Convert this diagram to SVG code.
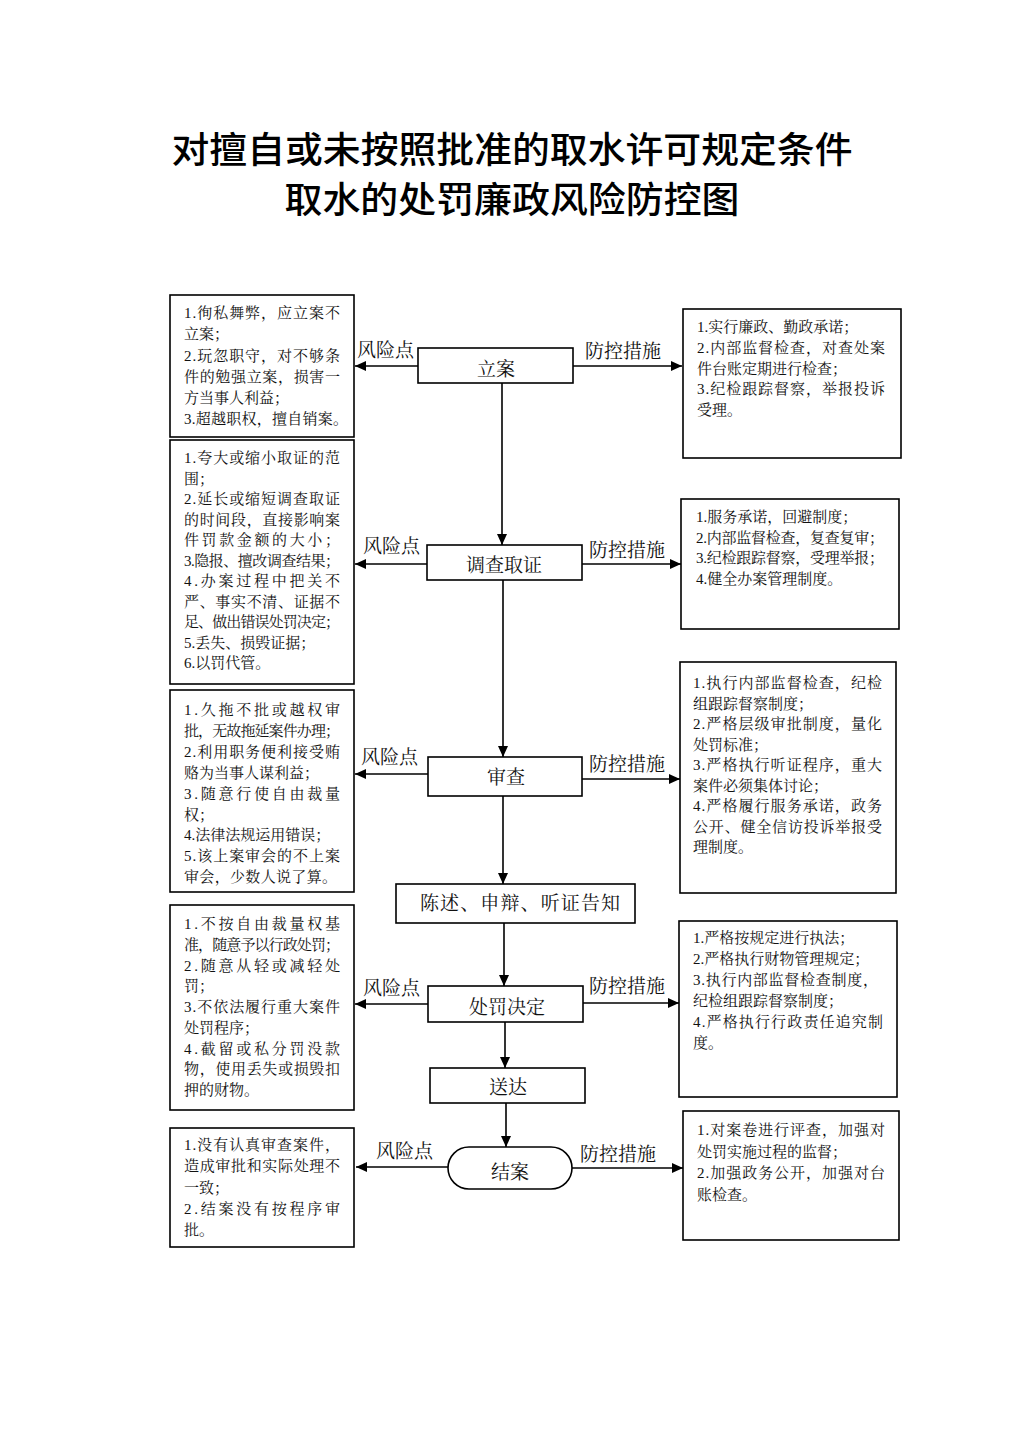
<svg xmlns="http://www.w3.org/2000/svg" width="1024" height="1449" viewBox="0 0 1024 1449">
<style>
.bg{fill:#fff}
.box{fill:#fff;stroke:#000;stroke-width:1.6}
.node{fill:#fff;stroke:#000;stroke-width:1.6}
.t{font-family:"Liberation Serif","Noto Serif CJK SC","Noto Sans CJK SC",serif;font-size:15px;fill:#111}
.n{font-family:"Liberation Serif","Noto Serif CJK SC","Noto Sans CJK SC",serif;font-size:19px;fill:#111;text-anchor:middle}
.lb{font-family:"Liberation Serif","Noto Serif CJK SC","Noto Sans CJK SC",serif;font-size:19px;fill:#111}
.title{font-family:"Noto Sans CJK SC",sans-serif;font-size:36px;font-weight:500;fill:#000;text-anchor:middle}
.c{stroke:#000;stroke-width:1.6;fill:none}
</style>
<defs>
<marker id="ah" markerUnits="userSpaceOnUse" markerWidth="12" markerHeight="10" refX="11" refY="5" orient="auto">
<path d="M0,0 L11,5 L0,10 z" fill="#000"/>
</marker>
</defs>
<rect class="bg" x="0" y="0" width="1024" height="1449"/>
<g id="title">
<text class="title" x="512" y="163" textLength="681" lengthAdjust="spacingAndGlyphs">对擅自或未按照批准的取水许可规定条件</text>
<text class="title" x="512" y="213" textLength="455" lengthAdjust="spacingAndGlyphs">取水的处罚廉政风险防控图</text>
</g>

<g id="connectors">
<line class="c" x1="502" y1="383" x2="502" y2="545" marker-end="url(#ah)"/>
<line class="c" x1="503" y1="580" x2="503" y2="757" marker-end="url(#ah)"/>
<line class="c" x1="503" y1="796" x2="503" y2="884" marker-end="url(#ah)"/>
<line class="c" x1="504" y1="923" x2="504" y2="986" marker-end="url(#ah)"/>
<line class="c" x1="505" y1="1022" x2="505" y2="1068" marker-end="url(#ah)"/>
<line class="c" x1="506" y1="1103" x2="506" y2="1147" marker-end="url(#ah)"/>
<line class="c" x1="418" y1="366" x2="355" y2="366" marker-end="url(#ah)"/>
<line class="c" x1="573" y1="366" x2="682" y2="366" marker-end="url(#ah)"/>
<line class="c" x1="427" y1="564" x2="355" y2="564" marker-end="url(#ah)"/>
<line class="c" x1="582" y1="564" x2="681" y2="564" marker-end="url(#ah)"/>
<line class="c" x1="428" y1="774" x2="355" y2="774" marker-end="url(#ah)"/>
<line class="c" x1="582" y1="779" x2="680" y2="779" marker-end="url(#ah)"/>
<line class="c" x1="428" y1="1004" x2="355" y2="1004" marker-end="url(#ah)"/>
<line class="c" x1="583" y1="1003" x2="679" y2="1003" marker-end="url(#ah)"/>
<line class="c" x1="448" y1="1167" x2="356" y2="1167" marker-end="url(#ah)"/>
<line class="c" x1="572" y1="1168" x2="683" y2="1168" marker-end="url(#ah)"/>
<text class="lb" x="357" y="357">风险点</text>
<text class="lb" x="585" y="358">防控措施</text>
<text class="lb" x="363" y="553">风险点</text>
<text class="lb" x="589" y="557">防控措施</text>
<text class="lb" x="361" y="764">风险点</text>
<text class="lb" x="589" y="771">防控措施</text>
<text class="lb" x="363" y="995">风险点</text>
<text class="lb" x="589" y="993">防控措施</text>
<text class="lb" x="376" y="1158">风险点</text>
<text class="lb" x="580" y="1161">防控措施</text>
</g>

<g id="node-lian">
<rect class="node" x="418" y="348" width="155" height="35"/>
<text class="n" x="496" y="376">立案</text>
</g>
<g id="node-diaocha">
<rect class="node" x="427" y="545" width="155" height="35"/>
<text class="n" x="504" y="572">调查取证</text>
</g>
<g id="node-shencha">
<rect class="node" x="428" y="757" width="154" height="39"/>
<text class="n" x="506" y="784">审查</text>
</g>
<g id="node-chenshu">
<rect class="node" x="396" y="884" width="239" height="39"/>
<text class="n" x="520" y="910" textLength="200" lengthAdjust="spacing">陈述、申辩、听证告知</text>
</g>
<g id="node-chufa">
<rect class="node" x="428" y="986" width="155" height="36"/>
<text class="n" x="507" y="1014">处罚决定</text>
</g>
<g id="node-songda">
<rect class="node" x="430" y="1068" width="155" height="35"/>
<text class="n" x="508" y="1094">送达</text>
</g>
<g id="node-jiean">
<rect class="node" x="448" y="1147" width="124" height="42" rx="21" ry="21"/>
<text class="n" x="510" y="1179">结案</text>
</g>

<g id="risk-1">
<rect class="box" x="170" y="295" width="184" height="142"/>
<text class="t" x="184" y="318" textLength="156" lengthAdjust="spacing">1.徇私舞弊，应立案不</text>
<text class="t" x="184" y="339">立案；</text>
<text class="t" x="184" y="361" textLength="156" lengthAdjust="spacing">2.玩忽职守，对不够条</text>
<text class="t" x="184" y="382" textLength="156" lengthAdjust="spacing">件的勉强立案，损害一</text>
<text class="t" x="184" y="403">方当事人利益；</text>
<text class="t" x="184" y="424" textLength="164" lengthAdjust="spacing">3.超越职权，擅自销案。</text>
</g>
<g id="risk-2">
<rect class="box" x="170" y="440" width="184" height="244"/>
<text class="t" x="184" y="463" textLength="156" lengthAdjust="spacing">1.夸大或缩小取证的范</text>
<text class="t" x="184" y="483.5">围；</text>
<text class="t" x="184" y="504" textLength="156" lengthAdjust="spacing">2.延长或缩短调查取证</text>
<text class="t" x="184" y="524.5" textLength="156" lengthAdjust="spacing">的时间段，直接影响案</text>
<text class="t" x="184" y="545" textLength="156" lengthAdjust="spacing">件罚款金额的大小；</text>
<text class="t" x="184" y="565.5" textLength="156" lengthAdjust="spacing">3.隐报、擅改调查结果；</text>
<text class="t" x="184" y="586" textLength="156" lengthAdjust="spacing">4.办案过程中把关不</text>
<text class="t" x="184" y="606.5" textLength="156" lengthAdjust="spacing">严、事实不清、证据不</text>
<text class="t" x="184" y="627" textLength="156" lengthAdjust="spacing">足、做出错误处罚决定；</text>
<text class="t" x="184" y="647.5">5.丢失、损毁证据；</text>
<text class="t" x="184" y="668">6.以罚代管。</text>
</g>
<g id="risk-3">
<rect class="box" x="170" y="690" width="184" height="202"/>
<text class="t" x="184" y="715" textLength="156" lengthAdjust="spacing">1.久拖不批或越权审</text>
<text class="t" x="184" y="736" textLength="156" lengthAdjust="spacing">批，无故拖延案件办理；</text>
<text class="t" x="184" y="757" textLength="156" lengthAdjust="spacing">2.利用职务便利接受贿</text>
<text class="t" x="184" y="778">赂为当事人谋利益；</text>
<text class="t" x="184" y="799" textLength="156" lengthAdjust="spacing">3.随意行使自由裁量</text>
<text class="t" x="184" y="820">权；</text>
<text class="t" x="184" y="840">4.法律法规运用错误；</text>
<text class="t" x="184" y="861" textLength="156" lengthAdjust="spacing">5.该上案审会的不上案</text>
<text class="t" x="184" y="882" textLength="153" lengthAdjust="spacing">审会，少数人说了算。</text>
</g>
<g id="risk-4">
<rect class="box" x="170" y="905" width="184" height="205"/>
<text class="t" x="184" y="929" textLength="156" lengthAdjust="spacing">1.不按自由裁量权基</text>
<text class="t" x="184" y="950" textLength="156" lengthAdjust="spacing">准，随意予以行政处罚；</text>
<text class="t" x="184" y="970.5" textLength="156" lengthAdjust="spacing">2.随意从轻或减轻处</text>
<text class="t" x="184" y="991">罚；</text>
<text class="t" x="184" y="1012" textLength="156" lengthAdjust="spacing">3.不依法履行重大案件</text>
<text class="t" x="184" y="1033">处罚程序；</text>
<text class="t" x="184" y="1053.5" textLength="156" lengthAdjust="spacing">4.截留或私分罚没款</text>
<text class="t" x="184" y="1074" textLength="156" lengthAdjust="spacing">物，使用丢失或损毁扣</text>
<text class="t" x="184" y="1095">押的财物。</text>
</g>
<g id="risk-5">
<rect class="box" x="170" y="1128" width="184" height="119"/>
<text class="t" x="184" y="1150" textLength="156" lengthAdjust="spacing">1.没有认真审查案件，</text>
<text class="t" x="184" y="1171" textLength="156" lengthAdjust="spacing">造成审批和实际处理不</text>
<text class="t" x="184" y="1192.5">一致；</text>
<text class="t" x="184" y="1214" textLength="156" lengthAdjust="spacing">2.结案没有按程序审</text>
<text class="t" x="184" y="1235">批。</text>
</g>

<g id="measure-1">
<rect class="box" x="683" y="309" width="218" height="149"/>
<text class="t" x="697" y="332">1.实行廉政、勤政承诺；</text>
<text class="t" x="697" y="353" textLength="188" lengthAdjust="spacing">2.内部监督检查，对查处案</text>
<text class="t" x="697" y="373.5">件台账定期进行检查；</text>
<text class="t" x="697" y="394" textLength="188" lengthAdjust="spacing">3.纪检跟踪督察，举报投诉</text>
<text class="t" x="697" y="415">受理。</text>
</g>
<g id="measure-2">
<rect class="box" x="681" y="499" width="218" height="130"/>
<text class="t" x="696" y="522">1.服务承诺，回避制度；</text>
<text class="t" x="696" y="543" textLength="188" lengthAdjust="spacing">2.内部监督检查，复查复审；</text>
<text class="t" x="696" y="563" textLength="188" lengthAdjust="spacing">3.纪检跟踪督察，受理举报；</text>
<text class="t" x="696" y="584">4.健全办案管理制度。</text>
</g>
<g id="measure-3">
<rect class="box" x="680" y="662" width="216" height="231"/>
<text class="t" x="693" y="688" textLength="189" lengthAdjust="spacing">1.执行内部监督检查，纪检</text>
<text class="t" x="693" y="708.5">组跟踪督察制度；</text>
<text class="t" x="693" y="729" textLength="189" lengthAdjust="spacing">2.严格层级审批制度，量化</text>
<text class="t" x="693" y="749.5">处罚标准；</text>
<text class="t" x="693" y="770" textLength="189" lengthAdjust="spacing">3.严格执行听证程序，重大</text>
<text class="t" x="693" y="790.5">案件必须集体讨论；</text>
<text class="t" x="693" y="811" textLength="189" lengthAdjust="spacing">4.严格履行服务承诺，政务</text>
<text class="t" x="693" y="831.5" textLength="189" lengthAdjust="spacing">公开、健全信访投诉举报受</text>
<text class="t" x="693" y="852">理制度。</text>
</g>
<g id="measure-4">
<rect class="box" x="679" y="921" width="218" height="176"/>
<text class="t" x="693" y="943">1.严格按规定进行执法；</text>
<text class="t" x="693" y="964">2.严格执行财物管理规定；</text>
<text class="t" x="693" y="985" textLength="185" lengthAdjust="spacing">3.执行内部监督检查制度，</text>
<text class="t" x="693" y="1006">纪检组跟踪督察制度；</text>
<text class="t" x="693" y="1027" textLength="190" lengthAdjust="spacing">4.严格执行行政责任追究制</text>
<text class="t" x="693" y="1048">度。</text>
</g>
<g id="measure-5">
<rect class="box" x="683" y="1111" width="216" height="129"/>
<text class="t" x="697" y="1135" textLength="188" lengthAdjust="spacing">1.对案卷进行评查，加强对</text>
<text class="t" x="697" y="1157">处罚实施过程的监督；</text>
<text class="t" x="697" y="1178" textLength="188" lengthAdjust="spacing">2.加强政务公开，加强对台</text>
<text class="t" x="697" y="1200">账检查。</text>
</g>
</svg>
